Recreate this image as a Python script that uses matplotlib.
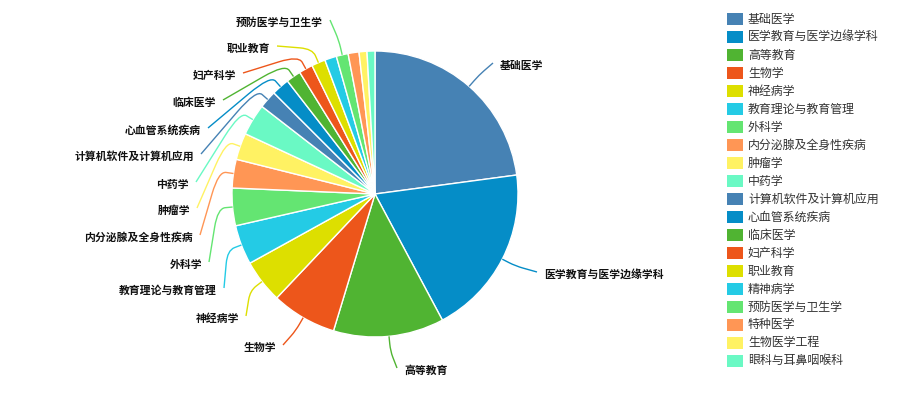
import numpy as np
import matplotlib
matplotlib.use("Agg")
import matplotlib.pyplot as plt
from matplotlib.path import Path
from matplotlib.patches import PathPatch, Rectangle

plt.rcParams['font.family'] = ['Noto Sans CJK SC', 'DejaVu Sans']

# 学科分布
subjects = ['基础医学', '医学教育与医学边缘学科', '高等教育', '生物学', '神经病学',
            '教育理论与教育管理', '外科学', '内分泌腺及全身性疾病', '肿瘤学', '中药学',
            '计算机软件及计算机应用', '心血管系统疾病', '临床医学', '妇产科学', '职业教育',
            '精神病学', '预防医学与卫生学', '特种医学', '生物医学工程', '眼科与耳鼻咽喉科']
counts = [205, 173, 112, 66, 44, 40, 38, 29, 27, 32,
          18, 18, 15, 14, 14, 12, 12, 11, 8, 8]

palette = ['#4682B4', '#058DC7', '#50B432', '#ED561B', '#DDDF00',
           '#24CBE5', '#64E572', '#FF9655', '#FFF263', '#6AF9C4']

# end points of the leader lines for the labelled slices (pixels)
label_ends = {
    '基础医学': (493, 63), '医学教育与医学边缘学科': (537, 272), '高等教育': (397, 368),
    '生物学': (283, 345), '神经病学': (246, 316), '教育理论与教育管理': (224, 288),
    '外科学': (209, 262), '内分泌腺及全身性疾病': (200, 235), '肿瘤学': (197, 208),
    '中药学': (196, 182), '计算机软件及计算机应用': (201, 154), '心血管系统疾病': (208, 128),
    '临床医学': (223, 100), '妇产科学': (243, 73), '职业教育': (277, 46),
    '预防医学与卫生学': (330, 20),
}

W, H = 902, 393
cx, cy, R = 375, 194, 143

fig = plt.figure(figsize=(W / 100, H / 100), dpi=100)
ax = fig.add_axes([0, 0, 1, 1])

colors = [palette[i % len(palette)] for i in range(len(subjects))]
wedges, _ = ax.pie(counts, colors=colors, startangle=-90, counterclock=True,
                   center=(cx, cy), radius=R,
                   wedgeprops=dict(edgecolor='white', linewidth=1))

ax.set_xlim(0, W)
ax.set_ylim(H, 0)
ax.axis('off')

for w, name, col in zip(wedges, subjects, colors):
    if name not in label_ends:
        continue
    mid = np.deg2rad((w.theta1 + w.theta2) / 2)
    d = np.array([np.cos(mid), np.sin(mid)])
    p0 = np.array([cx, cy]) + R * d
    p1 = np.array([cx, cy]) + (R + 15) * d
    p2 = np.array(label_ends[name], dtype=float)
    a = p0 + 0.5 * (p1 - p0)
    b = p1 + 0.35 * (p2 - p1)
    path = Path([p0, a, p1, b, p2],
                [Path.MOVETO, Path.LINETO, Path.CURVE3, Path.CURVE3, Path.LINETO])
    ax.add_patch(PathPatch(path, facecolor='none', edgecolor=col, lw=1))
    right = p2[0] > cx
    ax.text(p2[0] + (7 if right else -7), p2[1] + 2.5, name,
            ha='left' if right else 'right', va='center',
            fontsize=7.8, fontweight='bold', color='#111111')

# legend on the right
for i, (name, col) in enumerate(zip(subjects, colors)):
    y = 19.3 + i * 17.98
    ax.add_patch(Rectangle((727, y - 6), 16, 12, facecolor=col, edgecolor='none'))
    ax.text(748, y, name, ha='left', va='center', fontsize=8.6, color='#333333')

fig.savefig('out.png', dpi=100)
